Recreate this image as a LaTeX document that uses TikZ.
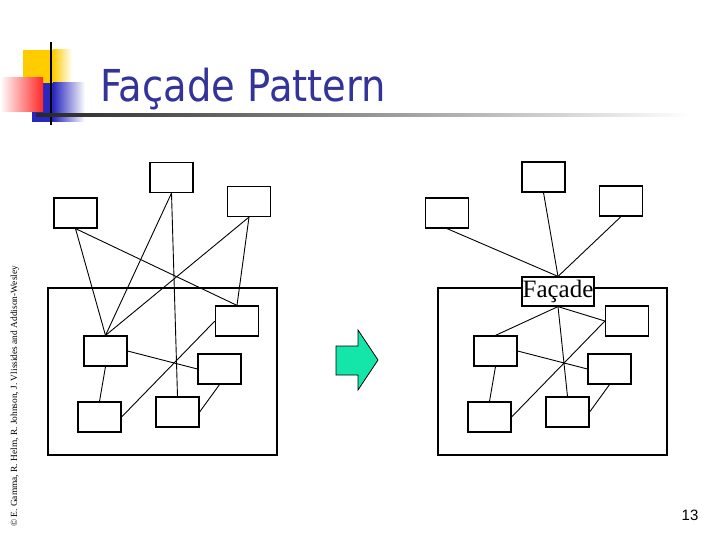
\documentclass[tikz,border=0pt]{standalone}
\usepackage{fontspec}
\usepackage{tikz}
\usetikzlibrary{positioning}
\newfontfamily\titlefont{DejaVu Sans}
\newfontfamily\boxfont{Liberation Serif}
\newfontfamily\numfont{Liberation Sans}
\definecolor{titleblue}{RGB}{51,51,153}
\definecolor{logoyellow}{RGB}{255,204,0}
\definecolor{logored}{RGB}{255,40,40}
\definecolor{logoblue}{RGB}{40,40,190}
\definecolor{arrowgreen}{RGB}{20,230,170}
\tikzset{
    cls/.style={rectangle, draw, fill=white, line width=1.2pt, minimum width=43pt, minimum height=30pt, inner sep=0pt},
    link/.style={draw, line width=0.9pt},
    subsys/.style={draw, line width=1.2pt},
    facade/.style={rectangle, draw, fill=white, line width=1.2pt, minimum width=72pt, minimum height=29pt, inner sep=0pt, font=\boxfont\fontsize{25}{25}\selectfont}
}

\begin{document}
\begin{tikzpicture}[x=1pt, y=-1pt]
    \useasboundingbox (0,0) rectangle (720,540);

    % title logo
    \fill[logoyellow] (23,50) rectangle (53,83);
    \shade[left color=logoyellow, right color=white] (53,50) rectangle (72,83);
    \fill[logoblue] (32,83) rectangle (53,122);
    \shade[left color=logoblue, right color=white] (53,83) rectangle (85,122);
    \shade[left color=white, right color=logored] (0,78) rectangle (43,112);
    \fill[black] (50,42) rectangle (52,125);
    \shade[left color=black!85, right color=white] (36,113.5) rectangle (690,116.5);
    \node[anchor=base west, inner sep=0pt, text=titleblue, xscale=0.875,
          font=\titlefont\fontsize{44}{44}\selectfont] (title) at (100,102) {Façade Pattern};

    % copyright and page number
    \node[rotate=90, anchor=west, inner sep=0pt, font=\boxfont\fontsize{9.4}{9.4}\selectfont] (copy) at (15,527)
        {© E. Gamma, R. Helm, R. Johnson, J. Vlissides and Addison-Wesley};
    \node[font=\numfont\fontsize{15}{15}\selectfont, inner sep=0pt] (page) at (690,515.5) {13};

    % without facade
    \draw[subsys] (48,288) rectangle (277,455);
    \node[cls] (T1) at (171.5,177.5) {};
    \node[cls] (L1) at (75.5,213) {};
    \node[cls] (R1) at (249,201.5) {};
    \node[cls] (A1) at (105.5,351) {};
    \node[cls] (B1) at (237,321) {};
    \node[cls] (C1) at (219.5,369) {};
    \node[cls] (D1) at (99.5,417) {};
    \node[cls] (E1) at (177.5,412) {};

    \draw[link] (L1.south) -- (A1.north);
    \draw[link] (L1.south) -- (B1.north);
    \draw[link] (T1.south) -- (A1.north);
    \draw[link] (T1.south) -- (E1.north);
    \draw[link] (R1.south) -- (A1.north);
    \draw[link] (R1.south) -- (B1.north);
    \draw[link] (A1.east) -- (C1.west);
    \draw[link] (A1.south) -- (D1.north);
    \draw[link] (D1.east) -- (B1.west);
    \draw[link] (C1.south) -- (E1.east);

    % arrow
    \filldraw[fill=arrowgreen, draw=black, line width=0.8pt]
        (336,346) -- (358,346) -- (358,330) -- (378,360) -- (358,390) -- (358,375) -- (336,375) -- cycle;

    % with facade
    \draw[subsys] (438,288) rectangle (667,455);
    \node[cls] (T2) at (543.5,177) {};
    \node[cls] (L2) at (447,213) {};
    \node[cls] (R2) at (621,201) {};
    \node[facade] (F) at (558,291.5) {Façade};
    \node[cls] (A2) at (495.5,351) {};
    \node[cls] (B2) at (627,321) {};
    \node[cls] (C2) at (609.5,369) {};
    \node[cls] (D2) at (489.5,417) {};
    \node[cls] (E2) at (567.5,412) {};

    \draw[link] (L2.south) -- (F.north);
    \draw[link] (T2.south) -- (F.north);
    \draw[link] (R2.south) -- (F.north);
    \draw[link] (F.south) -- (A2.north);
    \draw[link] (F.south) -- (B2.west);
    \draw[link] (F.south) -- (E2.north);
    \draw[link] (A2.east) -- (C2.west);
    \draw[link] (A2.south) -- (D2.north);
    \draw[link] (D2.east) -- (B2.west);
    \draw[link] (C2.south) -- (E2.east);
\end{tikzpicture}
\end{document}
